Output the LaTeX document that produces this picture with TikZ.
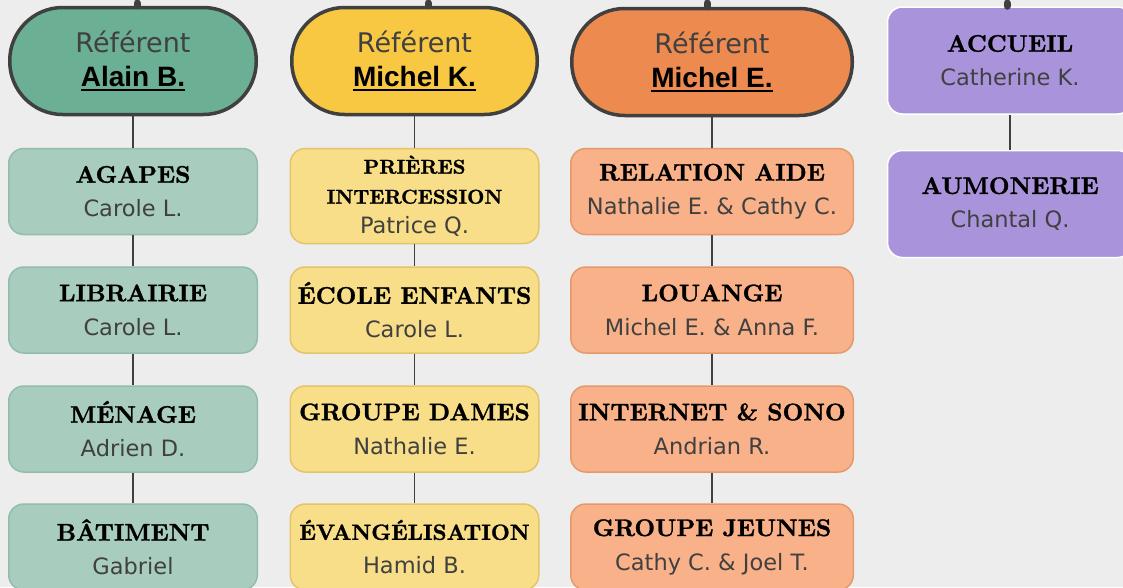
\documentclass[tikz,border=0pt]{standalone}
\usepackage{fontspec}
\setsansfont{DejaVu Sans}
\newfontfamily\grasref{Liberation Sans}
\newfontfamily\titrefont{lmroman10-bold.otf}[FakeBold=1.3]

\definecolor{fond}{HTML}{EDEDED}
\definecolor{trait}{HTML}{404040}
\definecolor{vertfonce}{HTML}{6BAF94}
\definecolor{vertclair}{HTML}{A8CCBE}
\definecolor{vertbord}{HTML}{92BDAB}
\definecolor{jaunefonce}{HTML}{F9C843}
\definecolor{jauneclair}{HTML}{F8DE88}
\definecolor{jaunebord}{HTML}{E3C46A}
\definecolor{orangefonce}{HTML}{EC8A50}
\definecolor{orangeclair}{HTML}{F9B189}
\definecolor{orangebord}{HTML}{E3996C}
\definecolor{violet}{HTML}{A994DC}

\newcommand{\titre}[1]{{\titrefont\color{black}#1}}
\newcommand{\nom}[1]{{\sffamily\fontsize{22.5}{34}\selectfont\color{trait}#1}}
\newcommand{\souligne}[1]{\setbox0\hbox{#1}\rlap{\rule[-4pt]{\wd0}{2pt}}\box0}
\newcommand{\chef}[1]{{\grasref\bfseries\fontsize{28}{34}\selectfont\color{black}\souligne{#1}}}

\tikzset{
  referent/.style={draw=trait, fill=#1fonce, line width=3.5pt, rounded corners=53pt,
    minimum height=107pt, align=center, inner sep=0pt, font=\fontsize{27}{34}\selectfont},
  service/.style={draw=#1bord, fill=#1clair, line width=1.5pt, rounded corners=15pt,
    minimum width=248.5pt, minimum height=86pt, align=center, inner sep=0pt,
    font=\fontsize{24}{34}\selectfont},
  accueilbox/.style={draw=white, fill=violet, line width=1.5pt, rounded corners=15pt,
    minimum width=245pt, minimum height=107pt, align=center, inner sep=0pt,
    font=\fontsize{24}{34}\selectfont},
  lien/.style={trait, line width=1.6pt},
  bout/.style={trait, line width=7pt, line cap=round},
}

\begin{document}
\begin{tikzpicture}[x=1pt, y=-1pt]
  \useasboundingbox (0,0) rectangle (1123,587);
  \fill[fond] (0,0) rectangle (1123,587);
  \clip (0,0) rectangle (1123,587);

  % referents
  \node[referent=vert, minimum width=246.5pt] (refAlain) at (133,61) {\nom{\fontsize{27}{34}\selectfont Référent}\\\chef{Alain B.}};
  \node[referent=jaune, minimum width=245.5pt] (refMichelK) at (414.5,61) {\nom{\fontsize{27}{34}\selectfont Référent}\\\chef{Michel K.}};
  \node[referent=orange, minimum width=280.5pt] (refMichelE) at (712,62) {\nom{\fontsize{27}{34}\selectfont Référent}\\\chef{Michel E.}};

  % colonne verte
  \node[service=vert] (agapes) at (133,191.5) {\titre{AGAPES}\\\nom{Carole L.}};
  \node[service=vert] (librairie) at (133,310) {\titre{LIBRAIRIE}\\\nom{Carole L.}};
  \node[service=vert] (menage) at (133,429) {\titre{MÉNAGE}\\\nom{Adrien D.}};
  \node[service=vert] (batiment) at (133,547) {\titre{BÂTIMENT}\\\nom{Gabriel}};

  % colonne jaune
  \node[service=jaune, minimum height=95pt, font=\fontsize{20}{30}\selectfont] (prieres) at (414.5,196)
    {\titre{PRIÈRES}\\\titre{INTERCESSION}\\\nom{Patrice Q.}};
  \node[service=jaune] (ecole) at (414.5,310) {\titre{ÉCOLE ENFANTS}\\\nom{Carole L.}};
  \node[service=jaune] (dames) at (414.5,429) {\titre{GROUPE DAMES}\\\nom{Nathalie E.}};
  \node[service=jaune] (evangelisation) at (414.5,547) {{\fontsize{22}{34}\selectfont\titre{ÉVANGÉLISATION}}\\\nom{Hamid B.}};

  % colonne orange
  \node[service=orange, minimum width=282.5pt] (relation) at (712,191.5) {\titre{RELATION AIDE}\\\nom{Nathalie E. \& Cathy C.}};
  \node[service=orange, minimum width=282.5pt] (louange) at (712,310) {\titre{LOUANGE}\\\nom{Michel E. \& Anna F.}};
  \node[service=orange, minimum width=282.5pt] (internet) at (712,429) {\titre{INTERNET \& SONO}\\\nom{Andrian R.}};
  \node[service=orange, minimum width=282.5pt] (jeunes) at (712,547) {\titre{GROUPE JEUNES}\\\nom{Cathy C. \& Joel T.}};

  % colonne violette
  \node[accueilbox] (accueil) at (1010,60.5) {\titre{ACCUEIL}\\\nom{Catherine K.}};
  \node[accueilbox] (aumonerie) at (1010,204) {\titre{AUMONERIE}\\\nom{Chantal Q.}};

  % liens
  \draw[lien] (refAlain) -- (agapes);
  \draw[lien] (agapes) -- (librairie);
  \draw[lien] (librairie) -- (menage);
  \draw[lien] (menage) -- (batiment);
  \draw[lien] (refMichelK) -- (prieres);
  \draw[lien] (prieres) -- (ecole);
  \draw[lien] (ecole) -- (dames);
  \draw[lien] (dames) -- (evangelisation);
  \draw[lien] (refMichelE) -- (relation);
  \draw[lien] (relation) -- (louange);
  \draw[lien] (louange) -- (internet);
  \draw[lien] (internet) -- (jeunes);
  \draw[lien] (accueil) -- (aumonerie);

  % arrivees du haut
  \coordinate (hautA) at (137,3);
  \coordinate (hautK) at (428,3);
  \coordinate (hautE) at (707,3);
  \coordinate (hautC) at (1007,3);
  \draw[bout] (hautA) -- (hautA |- refAlain.north);
  \draw[bout] (hautK) -- (hautK |- refMichelK.north);
  \draw[bout] (hautE) -- (hautE |- refMichelE.north);
  \draw[bout] (hautC) -- (hautC |- accueil.north);
\end{tikzpicture}
\end{document}
